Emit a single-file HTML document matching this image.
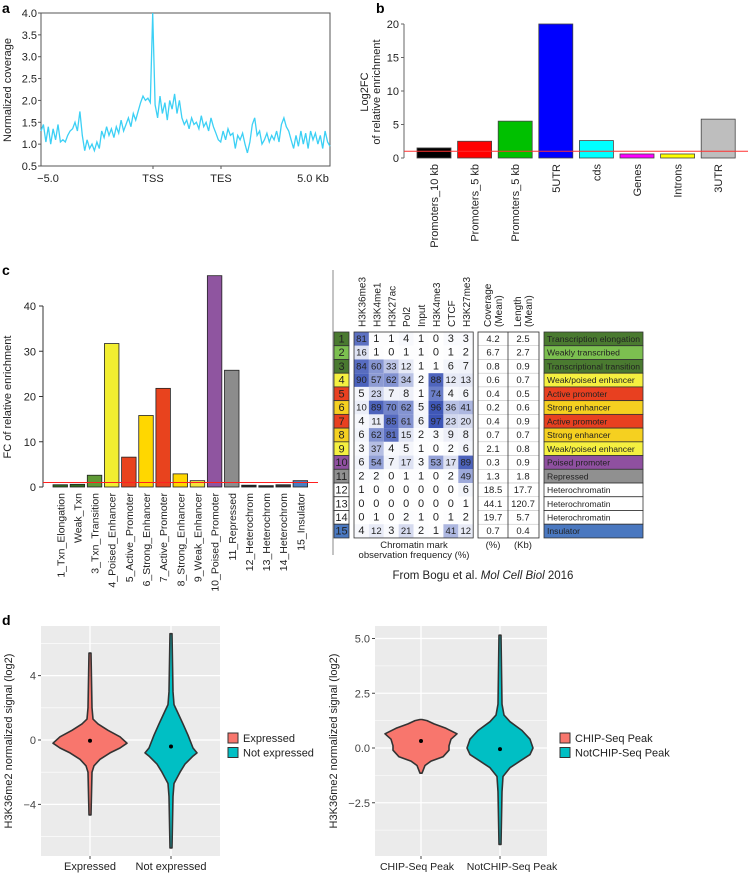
<!DOCTYPE html>
<html><head><meta charset="utf-8">
<style>
html,body{margin:0;padding:0;background:#fff;}
svg{display:block;font-family:"Liberation Sans",Arial,sans-serif;}
</style></head>
<body>
<svg id="fig" width="748" height="874" viewBox="0 0 748 874" xmlns="http://www.w3.org/2000/svg"></svg>
<script>
// ---------- DATA ----------
// Panel a
const aValues = [1.3,1.45,1.05,1.4,1.0,1.35,1.1,1.45,1.05,1.1,1.05,1.2,1.3,
1.35,1.5,1.3,1.75,1.2,
0.85,1.1,0.9,1.0,0.85,1.05,0.9,
1.3,1.15,1.4,1.2,1.35,1.15,1.4,1.25,1.55,
1.3,1.45,1.6,1.4,1.7,1.55,1.75,
1.95,2.1,2.0,2.05,1.95,
4.0,
1.9,1.6,2.1,1.7,1.95,1.55,2.0,
1.8,2.15,1.7,2.0,1.6,1.45,1.55,
1.35,1.6,1.45,1.5,1.35,1.65,1.4,
1.5,1.3,1.6,1.4,1.25,1.1,1.05,
1.3,1.1,1.35,1.2,1.25,0.9,1.2,1.1,
1.25,1.0,0.8,1.05,1.45,1.6,1.2,1.3,
1.0,1.1,1.25,1.05,1.2,1.1,1.3,1.05,
1.45,1.6,1.4,1.3,1.1,0.9,1.2,
0.95,1.3,1.0,1.25,0.9,1.3,1.1,1.25,1.0,1.2,0.9,1.3,1.05,0.95];
const aYTicks = [0.5,1.0,1.5,2.0,2.5,3.0,3.5,4.0];
const aXLabels = ["\u22125.0","TSS","TES","5.0 Kb"];
// Panel b
const bCats = ["Promoters_10 kb","Promoters_5 kb","Promoters_5 kb","5UTR","cds","Genes","Introns","3UTR"];
const bVals = [1.5,2.5,5.5,20,2.6,0.6,0.6,5.8];
const bTicks = [0,5,10,15,20];
// Panel c
const cCats = ["1_Txn_Elongation","Weak_Txn","3_Txn_Transition","4_Poised_Enhancer","5_Active_Promoter","6_Strong_Enhancer","7_Active_Promoter","8_Strong_Enhancer","9_Weak_Enhancer","10_Poised_Promoter","11_Repressed","12_Heterochrom","13_Heterochrom","14_Heterochrom","15_Insulator"];
const cVals = [0.5,0.6,2.6,31.7,6.6,15.8,21.8,2.9,1.4,46.7,25.8,0.4,0.3,0.5,1.4];
const cTicks = [0,10,20,30,40];
// Heatmap table
const hmCols = ["H3K36me3","H3K4me1","H3K27ac","Pol2","Input","H3K4me3","CTCF","H3K27me3"];
const hmVals = [
[81,1,1,4,1,0,3,3],[16,1,0,1,1,0,1,2],[84,60,33,12,1,1,6,7],[90,57,62,34,2,88,12,13],
[5,23,7,8,1,74,4,6],[10,89,70,62,5,96,36,41],[4,11,85,61,6,97,23,20],[6,62,81,15,2,3,9,8],
[3,37,4,5,1,0,2,6],[6,54,7,17,3,53,17,89],[2,2,0,1,1,0,2,49],[1,0,0,0,0,0,0,6],
[0,0,0,0,0,0,0,1],[0,1,0,2,1,0,1,2],[4,12,3,21,2,1,41,12]];
const hmCoverage = ["4.2","6.7","0.8","0.6","0.4","0.2","0.4","0.7","2.1","0.3","1.3","18.5","44.1","19.7","0.7"];
const hmLength = ["2.5","2.7","0.9","0.7","0.5","0.6","0.9","0.7","0.8","0.9","1.8","17.7","120.7","5.7","0.4"];
const hmStates = ["Transcription elongation","Weakly transcribed","Transcriptional transition","Weak/poised enhancer","Active promoter","Strong enhancer","Active promoter","Strong enhancer","Weak/poised enhancer","Poised promoter","Repressed","Heterochromatin","Heterochromatin","Heterochromatin","Insulator"];
// Panel d (violins: [value, half-width px])
const dLeftCats = ["Expressed","Not expressed"];
const dLeftTicks = [4,0,-4];
const dExpressed = [[5.4,1],[2,2],[1.3,3],[1,8],[0.6,18],[0.2,30],[-0.2,37],[-0.5,30],[-0.8,20],[-1.2,10],[-1.6,4],[-2,2],[-4.65,1]];
const dNotExpressed = [[6.6,1],[3,2],[2.2,3],[1.8,6],[1,12],[0.3,17],[-0.5,22],[-0.8,26],[-1,22],[-1.5,14],[-2,9],[-2.7,3],[-3.5,2],[-6.7,1]];
const dLeftMeans = [-0.05,-0.4];
const dRightCats = ["CHIP-Seq Peak","NotCHIP-Seq Peak"];
const dRightTicks = [5.0,2.5,0.0,-2.5];
const dChip = [[1.3,1],[1.25,6],[1.1,13],[0.9,25],[0.65,36],[0.4,30],[0.1,28],[-0.1,28],[-0.4,22],[-0.6,10],[-0.8,4],[-1.15,1]];
const dNotChip = [[5.15,1],[2,2],[1.5,4],[1.2,10],[0.8,22],[0.4,30],[0,33],[-0.3,30],[-0.6,20],[-0.9,10],[-1.3,3],[-2,2],[-4.4,1]];
const dRightMeans = [0.32,-0.05];

// ---------- helpers ----------
const svg = document.getElementById('fig');
const NS = 'http://www.w3.org/2000/svg';
function mk(tag, attrs, parent, text){
  const e = document.createElementNS(NS, tag);
  for (const k in attrs) e.setAttribute(k, attrs[k]);
  if (text !== undefined) e.textContent = text;
  (parent||svg).appendChild(e);
  return e;
}
function grp(name){
  const g = mk('g', {});
  
  
  return g;
}
function label(txt, x, y, size, name, parent){
  const t = mk('text', {x:x, y:y, 'font-size':size, 'font-weight':'bold'}, parent, txt);
  
  
}

// ---------- Panel a ----------
(function(){
  const g = grp('panel-a');
  label('a', 2, 13, 14, 'panel-a-label', g);
  const L=41, R=330, T=13, B=166;
  const yS = v => B - (v-0.5)/3.5*(B-T);
  const xS = i => L + i*(R-L)/(aValues.length-1);
  mk('rect',{x:L,y:T,width:R-L,height:B-T,fill:'none',stroke:'#555','stroke-width':1},g);
  aYTicks.forEach(v=>{
    mk('line',{x1:L-3,x2:L,y1:yS(v),y2:yS(v),stroke:'#555'},g);
    const t = mk('text',{x:L-4,y:yS(v)+4,'font-size':11,'text-anchor':'end',fill:'#222'},g,v.toFixed(1));
    
    
  });
  const xpos=[48,153,221,313];
  [153,221].forEach(x=>mk('line',{x1:x,x2:x,y1:B,y2:B+3,stroke:'#555'},g));
  aXLabels.forEach((s,i)=>{
    const t = mk('text',{x:xpos[i],y:182,'font-size':11,'text-anchor':'middle',fill:'#222'},g,s);
    
    
  });
  const yt = mk('text',{x:0,y:0,'font-size':11,'text-anchor':'middle',fill:'#222',transform:'translate(11,90) rotate(-90)'},g,'Normalized coverage');
  
  
  const d = aValues.map((v,i)=>(i?'L':'M')+xS(i).toFixed(1)+','+yS(v).toFixed(1)).join('');
  const p = mk('path',{d:d,fill:'none',stroke:'#3cd0f5','stroke-width':1.3},g);
  
  
})();

// ---------- Panel b ----------
(function(){
  const g = grp('panel-b');
  label('b', 376, 13, 14, 'panel-b-label', g);
  const X0=404, Y0=158, Y20=24;
  const yS = v => Y0 - v/20*(Y0-Y20);
  const colors=['#000','#ff0000','#00c000','#0000ff','#00ffff','#ff00ff','#ffff00','#bebebe'];
  mk('line',{x1:X0,x2:X0,y1:Y20,y2:Y0,stroke:'#666'},g);
  bTicks.forEach(v=>{
    mk('line',{x1:X0-3,x2:X0,y1:yS(v),y2:yS(v),stroke:'#666'},g);
    mk('text',{x:X0-5,y:yS(v)+4,'font-size':11,'text-anchor':'end',fill:'#222'},g,String(v));
  });
  const t1 = mk('text',{'font-size':11,'text-anchor':'middle',fill:'#222',transform:'translate(368,92) rotate(-90)'},g,'Log2FC');
  
  
  mk('text',{'font-size':11,'text-anchor':'middle',fill:'#222',transform:'translate(380,92) rotate(-90)'},g,'of relative enrichment');
  const step=40.6, bw=34, x0=417;
  bVals.forEach((v,i)=>{
    const x=x0+i*step;
    const r = mk('rect',{x:x,y:yS(v),width:bw,height:Y0-yS(v),fill:colors[i],stroke:'#444','stroke-width':0.8},g);
    
    
    mk('text',{'font-size':11,'text-anchor':'end',fill:'#222',transform:'translate('+(x+bw/2+4)+',164) rotate(-90)'},g,bCats[i]);
  });
  const rl = mk('line',{x1:X0,x2:748,y1:yS(1),y2:yS(1),stroke:'#ff3030','stroke-width':1},g);
  
  
})();

// ---------- Panel c bar chart ----------
(function(){
  const g = grp('panel-c-bars');
  label('c', 2, 275, 14, 'panel-c-label', g);
  const X0=43, Y0=487, Y40=306;
  const yS = v => Y0 - v/40*(Y0-Y40);
  const colors=['#2f6b22','#2f6b22','#5f9a36','#f2ee30','#e8431e','#ffd700','#e8431e','#ffd700','#f3e33a','#8f55a0','#8c8c8c','#222','#222','#333','#4a7ec0'];
  mk('line',{x1:X0,x2:X0,y1:Y40,y2:Y0,stroke:'#333'},g);
  cTicks.forEach(v=>{
    mk('line',{x1:X0-4,x2:X0,y1:yS(v),y2:yS(v),stroke:'#333'},g);
    mk('text',{x:X0-7,y:yS(v)+4,'font-size':11,'text-anchor':'end',fill:'#222'},g,String(v));
  });
  const yt = mk('text',{'font-size':11,'text-anchor':'middle',fill:'#222',transform:'translate(11,397) rotate(-90)'},g,'FC of relative enrichment');
  
  
  const step=17.15, bw=14.5, x0=53;
  cVals.forEach((v,i)=>{
    const x=x0+i*step;
    const r = mk('rect',{x:x,y:yS(v),width:bw,height:Math.max(1.5,Y0-yS(v)),fill:colors[i],stroke:'#222','stroke-width':0.8},g);
    
    
    mk('text',{'font-size':10.5,'text-anchor':'end',fill:'#222',transform:'translate('+(x+bw/2+4)+',493) rotate(-90)'},g,cCats[i]);
  });
  const rl = mk('line',{x1:X0,x2:318,y1:yS(1),y2:yS(1),stroke:'#ff2020','stroke-width':1},g);
  
  
})();

// ---------- Panel c heatmap ----------
(function(){
  const g = grp('chromatin-state-table');
  mk('line',{x1:333,x2:333,y1:270,y2:555,stroke:'#888'},g);
  const top=332, rh=13.73;
  const numCols=['#4a7a30','#7cbf50','#4a7a30','#f5f040','#e84020','#f5d020','#e84020','#f5d020','#f5f040','#8f50a0','#909090','#fff','#fff','#fff','#4a78c0'];
  const hx=354, cw=14.9;
  hmCols.forEach((c,j)=>{
    mk('text',{'font-size':10,'text-anchor':'start',fill:'#222',transform:'translate('+(hx+j*cw+cw/2+4)+',327) rotate(-90)'},g,c);
  });
  mk('text',{'font-size':10,'text-anchor':'start',fill:'#222',transform:'translate(491,327) rotate(-90)'},g,'Coverage');
  mk('text',{'font-size':10,'text-anchor':'start',fill:'#222',transform:'translate(502,327) rotate(-90)'},g,'(Mean)');
  mk('text',{'font-size':10,'text-anchor':'start',fill:'#222',transform:'translate(521,327) rotate(-90)'},g,'Length');
  mk('text',{'font-size':10,'text-anchor':'start',fill:'#222',transform:'translate(532,327) rotate(-90)'},g,'(Mean)');
  hmVals.forEach((row,i)=>{
    const y=top+i*rh;
    mk('rect',{x:334,y:y,width:15,height:rh,fill:numCols[i],stroke:'#333','stroke-width':0.8},g);
    mk('text',{x:341.5,y:y+10.5,'font-size':11,'text-anchor':'middle',fill:'#222'},g,String(i+1));
    row.forEach((v,j)=>{
      const a=v/100;
      const r=Math.round(255+(55-255)*a), gg=Math.round(255+(80-255)*a), b=Math.round(255+(180-255)*a);
      const c = mk('rect',{x:hx+j*cw,y:y,width:cw,height:rh,fill:'rgb('+r+','+gg+','+b+')'},g);
      
      
      mk('text',{x:hx+j*cw+cw/2,y:y+10,'font-size':v>=10?9.5:11,'text-anchor':'middle',fill:'#222'},g,String(v));
    });
    mk('rect',{x:478,y:y,width:61,height:rh,fill:'#fff',stroke:'#bbb','stroke-width':0.5},g);
    mk('text',{x:493,y:y+10,'font-size':9.5,'text-anchor':'middle',fill:'#222'},g,hmCoverage[i]);
    mk('text',{x:523,y:y+10,'font-size':9.5,'text-anchor':'middle',fill:'#222'},g,hmLength[i]);
    mk('rect',{x:544,y:y,width:99,height:rh,fill:numCols[i],stroke:'#333','stroke-width':0.8},g);
    mk('text',{x:547,y:y+10,'font-size':8.6,fill:'#222',textLength:hmStates[i].length>20?93:undefined},g,hmStates[i]);
  });
  const H=15*rh;
  mk('rect',{x:hx,y:top,width:8*cw,height:H,fill:'none',stroke:'#333','stroke-width':0.8},g);
  mk('rect',{x:478,y:top,width:61,height:H,fill:'none',stroke:'#333','stroke-width':0.8},g);
  mk('line',{x1:508,x2:508,y1:top,y2:top+H,stroke:'#333','stroke-width':0.8},g);
  mk('text',{x:414,y:548,'font-size':9.5,'text-anchor':'middle',fill:'#222'},g,'Chromatin mark');
  mk('text',{x:414,y:558,'font-size':9.5,'text-anchor':'middle',fill:'#222'},g,'observation frequency (%)');
  mk('text',{x:493,y:548,'font-size':9.5,'text-anchor':'middle',fill:'#222'},g,'(%)');
  mk('text',{x:523,y:548,'font-size':9.5,'text-anchor':'middle',fill:'#222'},g,'(Kb)');
  const cap = mk('text',{x:483,y:579,'font-size':11.5,'text-anchor':'middle',fill:'#222'},g);
  
  
  mk('tspan',{},cap,'From Bogu et al. ');
  mk('tspan',{'font-style':'italic'},cap,'Mol Cell Biol');
  mk('tspan',{},cap,' 2016');
})();

// ---------- Panel d ----------
function violinPanel(opts){
  const g = grp(opts.name);
  const {L,R,T,B,zeroY,ppu,centers,ticks,minor,cats,violins,means,fmt,legend,legX,titleX} = opts;
  const yS = v => zeroY - v*ppu;
  mk('rect',{x:L,y:T,width:R-L,height:B-T,fill:'#ebebeb'},g);
  minor.forEach(v=>{ if(yS(v)>T&&yS(v)<B) mk('line',{x1:L,x2:R,y1:yS(v),y2:yS(v),stroke:'#fff','stroke-width':0.6},g); });
  ticks.forEach(v=>{
    mk('line',{x1:L,x2:R,y1:yS(v),y2:yS(v),stroke:'#fff','stroke-width':1.3},g);
    mk('line',{x1:L-3,x2:L,y1:yS(v),y2:yS(v),stroke:'#444'},g);
    mk('text',{x:L-5,y:yS(v)+4,'font-size':11,'text-anchor':'end',fill:'#444'},g,fmt(v));
  });
  centers.forEach((cx,i)=>{
    mk('line',{x1:cx,x2:cx,y1:T,y2:B,stroke:'#fff','stroke-width':1.3},g);
    mk('line',{x1:cx,x2:cx,y1:B,y2:B+3,stroke:'#444'},g);
    mk('text',{x:cx+(opts.labShift?opts.labShift[i]:0),y:B+14,'font-size':opts.labSize||11,'text-anchor':'middle',fill:'#222'},g,cats[i]);
  });
  const fills=['#f8766d','#00bfc4'];
  violins.forEach((vd,i)=>{
    const cx=centers[i];
    const right = vd.map(p=>(cx+p[1]).toFixed(1)+','+yS(p[0]).toFixed(1));
    const left = vd.slice().reverse().map(p=>(cx-p[1]).toFixed(1)+','+yS(p[0]).toFixed(1));
    const path = mk('path',{d:'M'+right.join('L')+'L'+left.join('L')+'Z',fill:fills[i],stroke:'#333','stroke-width':1.6,'stroke-linejoin':'round'},g);
    
    
    mk('circle',{cx:cx,cy:yS(means[i]),r:2,fill:'#000'},g);
  });
  const yt = mk('text',{'font-size':11,'text-anchor':'middle',fill:'#222',transform:'translate('+titleX+',741) rotate(-90)'},g,'H3K36me2 normalized signal (log2)');
  
  
  legend.forEach((s,i)=>{
    const y = opts.legY + i*14.5;
    const k = mk('rect',{x:legX,y:y,width:10,height:10,fill:fills[i],stroke:'#333','stroke-width':1},g);
    
    
    mk('text',{x:legX+15,y:y+9,'font-size':11,fill:'#222'},g,s);
  });
}
label('d', 2, 625, 14, 'panel-d-label');
violinPanel({name:'panel-d-left',L:41,R:220,T:626,B:856,zeroY:740,ppu:16.1,centers:[90,171],
  ticks:dLeftTicks,minor:[6,2,-2,-6],cats:dLeftCats,violins:[dExpressed,dNotExpressed],means:dLeftMeans,
  fmt:v=>v<0?'\u2212'+(-v):String(v),legend:dLeftCats,legX:228,legY:733,titleX:12});
violinPanel({name:'panel-d-right',L:375,R:547,T:626,B:856,zeroY:748,ppu:21.9,centers:[421,500],
  ticks:dRightTicks,minor:[3.75,1.25,-1.25,-3.75],cats:dRightCats,violins:[dChip,dNotChip],means:dRightMeans,
  fmt:v=>(v<0?'\u2212':'')+Math.abs(v).toFixed(1),legend:dRightCats,legX:560,legY:733,titleX:337,
  labShift:[-4,12],labSize:10.5});
</script>
</body></html>
